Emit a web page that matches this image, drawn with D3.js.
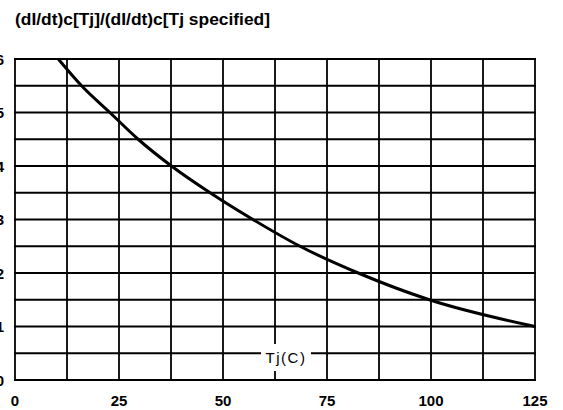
<!DOCTYPE html>
<html>
<head>
<meta charset="utf-8">
<script src="https://cdn.jsdelivr.net/npm/d3@7"></script>
<style>
  html, body { margin: 0; padding: 0; background: #fff; }
  svg { display: block; }
  text { font-family: "Liberation Sans", Arial, Helvetica, sans-serif; fill: #000; }
</style>
</head>
<body>
<svg id="chart" width="563" height="410"></svg>
<script>
// Junction temperature (°C) and the normalised critical dI/dt ratio
const tj = [10.4, 16.0, 22.8, 29.6, 37.6, 46.9, 57.2, 68.5, 82.5, 99.6, 125];
const ratio = [6.0, 5.5, 5.0, 4.5, 4.0, 3.5, 3.0, 2.5, 2.0, 1.5, 1.0];

const xTickLabels = [0, 25, 50, 75, 100, 125];
const yTickLabels = [0, 1, 2, 3, 4, 5, 6];
const xGrid = d3.range(0, 125.01, 12.5);
const yGrid = d3.range(0, 6.01, 0.5);

const title = "(dI/dt)c[Tj]/(dI/dt)c[Tj specified]";
const xTitle = "Tj(C)";

const svg = d3.select("#chart");
const x = d3.scaleLinear().domain([0, 125]).range([15, 535]);
const y = d3.scaleLinear().domain([0, 6]).range([380, 59]);

// grid
const grid = svg.append("g");
grid.selectAll("line.v").data(xGrid).join("line")
  .attr("class", "v")
  .attr("x1", d => x(d)).attr("x2", d => x(d))
  .attr("y1", y(6) - 1).attr("y2", y(0) + 1)
  .attr("stroke", "#000").attr("stroke-width", 1.8);
grid.selectAll("line.h").data(yGrid).join("line")
  .attr("class", "h")
  .attr("x1", x(0) - 1).attr("x2", x(125) + 1)
  .attr("y1", d => y(d)).attr("y2", d => y(d))
  .attr("stroke", "#000").attr("stroke-width", 2);

// curve
const line = d3.line()
  .x((d, i) => x(tj[i]))
  .y(d => y(d))
  .curve(d3.curveMonotoneX);
svg.append("path")
  .datum(ratio)
  .attr("d", line)
  .attr("fill", "none")
  .attr("stroke", "#000")
  .attr("stroke-width", 3);

// x-axis title sitting on the grid with a white backing
const xt = svg.append("g");
xt.append("rect")
  .attr("x", 261).attr("y", 344).attr("width", 50).attr("height", 27)
  .attr("fill", "#fff");
xt.append("text")
  .attr("x", 286).attr("y", 363)
  .attr("text-anchor", "middle")
  .style("font-size", "15px")
  .style("letter-spacing", "1.5px")
  .text(xTitle);

// tick labels
svg.append("g").selectAll("text").data(xTickLabels).join("text")
  .attr("x", d => x(d)).attr("y", 406)
  .attr("text-anchor", "middle")
  .style("font-size", "15px").style("font-weight", "bold")
  .text(d => d);
svg.append("g").selectAll("text").data(yTickLabels).join("text")
  .attr("x", 4).attr("y", d => y(d) + 5.5)
  .attr("text-anchor", "end")
  .style("font-size", "15px").style("font-weight", "bold")
  .text(d => d);

// title
svg.append("text")
  .attr("x", 15).attr("y", 25)
  .style("font-size", "17.4px").style("font-weight", "bold")
  .text(title);
</script>
</body>
</html>
